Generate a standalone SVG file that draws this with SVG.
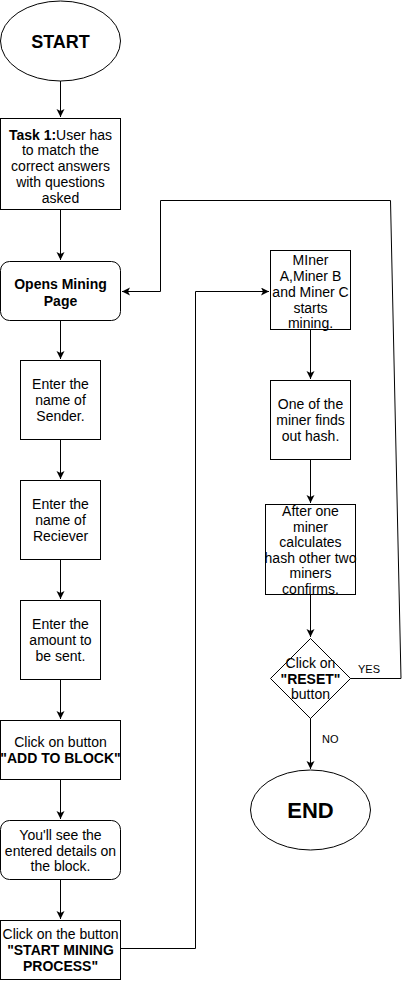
<svg xmlns="http://www.w3.org/2000/svg" width="402" height="982" viewBox="0 0 402 982">
<style>
.s{fill:#fff;stroke:#000;stroke-width:1}
.t{font-family:"Liberation Sans",Arial,sans-serif;font-size:14px;fill:#000;text-anchor:middle}
.b{font-weight:bold}
.e{fill:none;stroke:#000;stroke-width:1}
.l{font-family:"Liberation Sans",Arial,sans-serif;font-size:11px;fill:#000}
</style>
<defs>
<marker id="a" markerWidth="10" markerHeight="10" refX="8" refY="4" orient="auto" markerUnits="userSpaceOnUse">
<path d="M0,0 L8,4 L0,8 L2,4 z" fill="#000"/>
</marker>
</defs>
<rect width="402" height="982" fill="#fff"/>
<g id="connectors">
<path class="e" d="M60.5,81 V117" marker-end="url(#a)"/>
<path class="e" d="M60.5,210 V260" marker-end="url(#a)"/>
<path class="e" d="M60.5,321 V359" marker-end="url(#a)"/>
<path class="e" d="M60.5,440 V479" marker-end="url(#a)"/>
<path class="e" d="M60.5,560 V599" marker-end="url(#a)"/>
<path class="e" d="M60.5,680 V719" marker-end="url(#a)"/>
<path class="e" d="M60.5,780 V819" marker-end="url(#a)"/>
<path class="e" d="M60.5,880 V919" marker-end="url(#a)"/>
<path class="e" d="M121,948.5 H195.5 V291.5 H269" marker-end="url(#a)"/>
<path class="e" d="M310.5,330 V379" marker-end="url(#a)"/>
<path class="e" d="M310.5,460 V503" marker-end="url(#a)"/>
<path class="e" d="M310.5,595 V637" marker-end="url(#a)"/>
<path class="e" d="M310.5,718 V769" marker-end="url(#a)"/>
<path class="e" d="M350,678.5 H401 L390.5,200.5 H160.5 V291.5 H122" marker-end="url(#a)"/>
<text class="l" x="358" y="673">YES</text>
<text class="l" x="322" y="743">NO</text>
</g>
<g id="start">
<ellipse class="s" cx="60.5" cy="41" rx="60" ry="40"/>
<text class="t b" x="60.5" y="47.5" style="font-size:18px">START</text>
</g>
<g id="task1">
<rect class="s" x="0.5" y="118.5" width="120" height="91"/>
<text class="t"><tspan x="60.5" y="139.5"><tspan class="b">Task 1:</tspan>User has</tspan><tspan x="60.5" y="155.3">to match the</tspan><tspan x="60.5" y="171.1">correct answers</tspan><tspan x="60.5" y="186.9">with questions</tspan><tspan x="60.5" y="202.7">asked</tspan></text>
</g>
<g id="opens">
<rect class="s" x="0.5" y="261.5" width="120" height="59" rx="9"/>
<text class="t b"><tspan x="60.5" y="289">Opens Mining</tspan><tspan x="60.5" y="306">Page</tspan></text>
</g>
<g id="sender">
<rect class="s" x="20.5" y="360.5" width="80" height="79"/>
<text class="t"><tspan x="60.5" y="389">Enter the</tspan><tspan x="60.5" y="405">name of</tspan><tspan x="60.5" y="421">Sender.</tspan></text>
</g>
<g id="receiver">
<rect class="s" x="20.5" y="480.5" width="80" height="79"/>
<text class="t"><tspan x="60.5" y="509">Enter the</tspan><tspan x="60.5" y="525">name of</tspan><tspan x="60.5" y="541">Reciever</tspan></text>
</g>
<g id="amount">
<rect class="s" x="20.5" y="600.5" width="80" height="79"/>
<text class="t"><tspan x="60.5" y="629">Enter the</tspan><tspan x="60.5" y="645">amount to</tspan><tspan x="60.5" y="661">be sent.</tspan></text>
</g>
<g id="addblock">
<rect class="s" x="0.5" y="720.5" width="120" height="59"/>
<text class="t"><tspan x="60.5" y="747">Click on button</tspan><tspan x="60.5" y="763" class="b">"ADD TO BLOCK"</tspan></text>
</g>
<g id="seedetails">
<rect class="s" x="0.5" y="820.5" width="120" height="59" rx="9"/>
<text class="t"><tspan x="60.5" y="840">You'll see the</tspan><tspan x="60.5" y="855.5">entered details on</tspan><tspan x="60.5" y="871">the block.</tspan></text>
</g>
<g id="startmining">
<rect class="s" x="0.5" y="920.5" width="120" height="59"/>
<text class="t"><tspan x="60.5" y="938.5">Click on the button</tspan><tspan x="60.5" y="954.5" class="b">"START MINING</tspan><tspan x="60.5" y="970.5" class="b">PROCESS"</tspan></text>
</g>
<g id="miners">
<rect class="s" x="270.5" y="250.5" width="80" height="79"/>
<text class="t"><tspan x="310.5" y="264.5">MIner</tspan><tspan x="310.5" y="280.5">A,Miner B</tspan><tspan x="310.5" y="296.5">and Miner C</tspan><tspan x="310.5" y="312.5">starts</tspan><tspan x="310.5" y="328">mining.</tspan></text>
</g>
<g id="findhash">
<rect class="s" x="270.5" y="380.5" width="80" height="79"/>
<text class="t"><tspan x="310.5" y="408.5">One of the</tspan><tspan x="310.5" y="424.5">miner finds</tspan><tspan x="310.5" y="440.5">out hash.</tspan></text>
</g>
<g id="confirm">
<rect class="s" x="265.5" y="504.5" width="90" height="90"/>
<text class="t"><tspan x="310.5" y="516">After one</tspan><tspan x="310.5" y="531.5">miner</tspan><tspan x="310.5" y="547">calculates</tspan><tspan x="310.5" y="562.5">hash other two</tspan><tspan x="310.5" y="578">miners</tspan><tspan x="310.5" y="593.5">confirms.</tspan></text>
</g>
<g id="reset">
<polygon class="s" points="310.5,638.5 350.5,678.5 310.5,718.5 270.5,678.5"/>
<text class="t"><tspan x="310.5" y="668">Click on</tspan><tspan x="310.5" y="684" class="b">"RESET"</tspan><tspan x="310.5" y="699">button</tspan></text>
</g>
<g id="end">
<ellipse class="s" cx="310.5" cy="810" rx="60" ry="40"/>
<text class="t b" x="310.5" y="818" style="font-size:22px">END</text>
</g>
</svg>
